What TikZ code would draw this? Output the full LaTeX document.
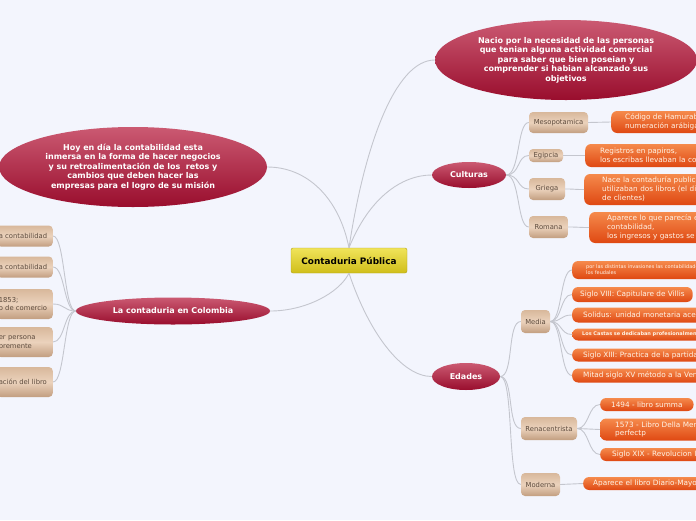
\documentclass[tikz,border=0pt]{standalone}
\usepackage{fontspec}
\setmainfont{DejaVu Sans}
\usetikzlibrary{shapes.geometric}
\definecolor{bg}{HTML}{F3F5FD}
\definecolor{redtop}{HTML}{CB5A72}
\definecolor{redbot}{HTML}{990D2D}
\definecolor{yltop}{HTML}{F0E45A}
\definecolor{ylbot}{HTML}{D0BE1A}
\definecolor{tantop}{HTML}{D8B89B}
\definecolor{tanmid}{HTML}{EBD2BC}
\definecolor{tanbot}{HTML}{C29E80}
\definecolor{tantext}{HTML}{5C4A3C}
\definecolor{ortop}{HTML}{F58A4C}
\definecolor{orbot}{HTML}{DF4812}
\definecolor{ortext}{HTML}{FFF3E6}
\definecolor{linkgray}{HTML}{C4C6CE}

\begin{document}
\begin{tikzpicture}[x=1pt, y=-1pt, font=\fontsize{7.3}{8.7}\selectfont,
  rd/.style={ellipse, inner sep=0pt, top color=redtop, bottom color=redbot, text=white, align=center,
             font=\bfseries\fontsize{8}{9.5}\selectfont},
  yl/.style={rounded corners=2pt, top color=yltop, bottom color=ylbot, draw=ylbot!85!black, thin,
             font=\bfseries\fontsize{8.9}{10}\selectfont},
  tn/.style={rounded corners=4pt, top color=tantop, bottom color=tanbot, middle color=tanmid, text=tantext,
             font=\fontsize{6.8}{8.5}\selectfont, inner xsep=4pt, inner ysep=1pt},
  o/.style={anchor=west, rounded corners=6pt, top color=ortop, bottom color=orbot, text=ortext, align=left,
            inner xsep=12pt, inner ysep=1pt},
  tiny/.style={font=\fontsize{5}{6}\selectfont},
  a/.style={draw=linkgray, line width=0.9pt}]

\useasboundingbox (0,0) rectangle (696,520);
\clip (0,0) rectangle (696,520);
\fill[bg] (0,0) rectangle (696,520);

% ---------------- centre and main bubbles
\node[yl, minimum width=116, minimum height=25] (root) at (349,260.5) {Contaduria Pública};
\node[rd, minimum width=262, minimum height=80] (origen) at (566,60) {Nacio por la necesidad de las personas\\que tenian alguna actividad comercial\\para saber que bien poseian y\\comprender si habian alcanzado sus\\objetivos};
\node[rd, minimum width=268, minimum height=80] (hoy) at (133,167) {Hoy en día la contabilidad esta\\inmersa en la forma de hacer negocios\\y su retroalimentación de los\ \ retos y\\cambios que deben hacer las\\empresas para el logro de su misión};
\node[rd, minimum width=194, minimum height=27] (colombia) at (173,311) {La contaduria en Colombia};
\node[rd, minimum width=74, minimum height=26] (culturas) at (469,175) {Culturas};
\node[rd, minimum width=68, minimum height=27] (edades) at (466,376.5) {Edades};
\draw[a] (root.north) .. controls +(15,-100) and +(-40,0) .. (origen.west);
\draw[a] (root.north) .. controls +(20,-50) and +(-30,0) .. (culturas.west);
\draw[a] (root.south) .. controls +(20,60) and +(-30,0) .. (edades.west);
\draw[a] (root.north) .. controls +(-10,-50) and +(40,0) .. (hoy.east);
\draw[a] (root.south) .. controls +(-10,20) and +(35,0) .. (colombia.east);

% ---------------- Culturas
\node[tn, minimum width=59, minimum height=21] (meso) at (558.5,122.5) {Mesopotamica};
\node[tn, minimum width=34, minimum height=13] (egipcia) at (546,155.5) {Egipcia};
\node[tn, minimum width=36, minimum height=22] (griega) at (547,189) {Griega};
\node[tn, minimum width=39, minimum height=22] (romana) at (548.5,227) {Romana};
\node[o, text width=150, inner xsep=14pt, minimum height=22] (hamurabi) at (611,122) {Código de Hamurabi\\numeración arábiga};
\node[o, text width=150, inner xsep=15pt, minimum height=23] (papiros) at (585,155.5) {Registros en papiros,\\los escribas llevaban la contabilidad};
\node[o, text width=150, inner xsep=18pt, minimum height=31, font=\fontsize{7.3}{9}\selectfont] (nace) at (584,189.5) {Nace la contaduría publica,\\utilizaban dos libros (el diario\\de clientes)};
\node[o, text width=150, inner xsep=18pt, minimum height=31, font=\fontsize{7.3}{9}\selectfont] (aparece) at (589,227.5) {Aparece lo que parecía el\\contabilidad,\\los ingresos y gastos se registraban};
\foreach \n in {meso,egipcia,griega,romana}
  \draw[a] (culturas.east) .. controls +(14,0) and +(-12,0) .. (\n.west);
\draw[a] (meso.east) .. controls +(12,0) and +(-12,0) .. (hamurabi.west);
\draw[a] (egipcia.east) .. controls +(12,0) and +(-12,0) .. (papiros.west);
\draw[a] (griega.east) .. controls +(12,0) and +(-12,0) .. (nace.west);
\draw[a] (romana.east) .. controls +(12,0) and +(-12,0) .. (aparece.west);

% ---------------- Edades
\node[tn, minimum width=29, minimum height=23] (media) at (535.5,321.5) {Media};
\node[tn, minimum width=56, minimum height=23] (renac) at (549,428.5) {Renacentrista};
\node[tn, minimum width=39, minimum height=23] (moderna) at (540.5,484.5) {Moderna};
\foreach \n in {media,renac,moderna}
  \draw[a] (edades.east) .. controls +(14,0) and +(-14,0) .. (\n.west);

\node[o, tiny, text width=150, inner xsep=14pt, minimum height=18] (m1) at (572,270) {por las distintas invasiones las contabilidades\\los feudales};
\node[o, inner xsep=8pt, minimum height=15] (m2) at (572,294.5) {Siglo VIII: Capitulare de Villis};
\node[o, text width=150, inner xsep=11pt, minimum height=15] (m3) at (572,315) {Solidus: unidad monetaria aceptada};
\node[o, font=\bfseries\fontsize{5}{6}\selectfont, text width=150, inner xsep=10pt, minimum height=12] (m4) at (572,334.5) {Los Castas se dedicaban profesionalmente};
\node[o, text width=150, inner xsep=11pt, minimum height=13] (m5) at (572,355) {Siglo XIII: Practica de la partida doble};
\node[o, text width=150, inner xsep=11pt, minimum height=14] (m6) at (572,375.5) {Mitad siglo XV método a la Veneciana};
\foreach \n in {m1,m2,m3,m4,m5,m6}
  \draw[a] (media.east) .. controls +(12,0) and +(-12,0) .. (\n.west);

\node[o, inner xsep=11pt, minimum height=13] (r1) at (600,404.5) {1494 - libro summa};
\node[o, text width=150, inner xsep=15pt, minimum height=22] (r2) at (600,429.5) {1573 - Libro Della Mercatura\\perfectp};
\node[o, text width=150, inner xsep=12pt, minimum height=13] (r3) at (600,454.5) {Siglo XIX - Revolucion Industrial};
\foreach \n in {r1,r2,r3}
  \draw[a] (renac.east) .. controls +(12,0) and +(-12,0) .. (\n.west);

\node[o, text width=150, inner xsep=10pt, minimum height=13] (diario) at (583,483.5) {Aparece el libro Diario-Mayor};
\draw[a] (moderna.east) .. controls +(12,0) and +(-12,0) .. (diario.west);

% ---------------- Colombia (cut at the left edge)
\node[tn, anchor=east, text width=52, align=left, inner xsep=2pt, minimum height=21] (col1) at (53,236) {a contabilidad};
\node[tn, anchor=east, text width=52, align=left, inner xsep=2pt, minimum height=21] (col2) at (53,267) {a contabilidad};
\node[tn, anchor=east, text width=52, align=left, inner xsep=2pt, minimum height=30] (col3) at (53,304) {1853;\\o de comercio};
\node[tn, anchor=east, text width=52, align=left, inner xsep=2pt, minimum height=30] (col4) at (53,342) {er persona\\bremente};
\node[tn, anchor=east, text width=52, align=left, inner xsep=2pt, minimum height=30] (col5) at (53,382) {ación del libro};
\foreach \n in {col1,col2,col3,col4,col5}
  \draw[a] (colombia.west) .. controls +(-12,0) and +(12,0) .. (\n.east);
\end{tikzpicture}
\end{document}
